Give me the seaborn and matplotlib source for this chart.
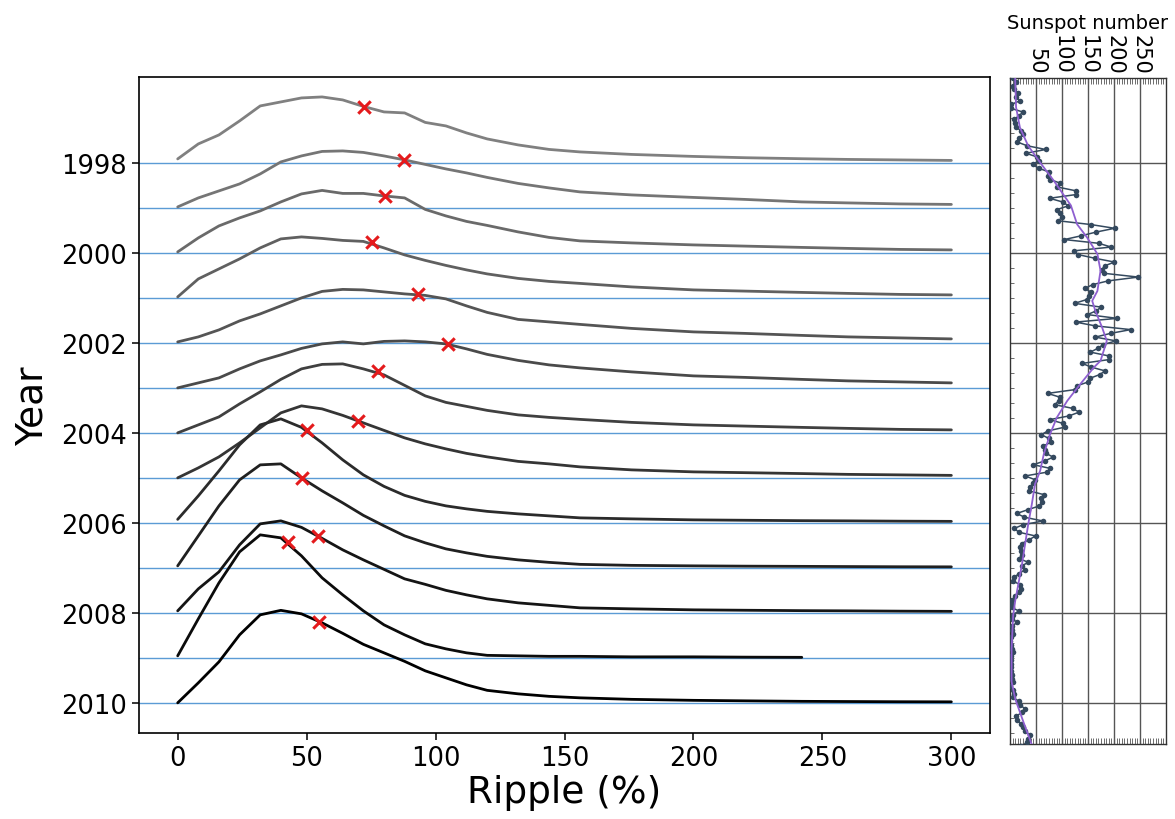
import numpy as np
import pandas as pd
import matplotlib
matplotlib.use("Agg")
import matplotlib.pyplot as plt
import seaborn as sns
from matplotlib.ticker import MultipleLocator, FixedLocator

# ---- ridge curves: ripple distribution per year ----
years = [1998, 1999, 2000, 2001, 2002, 2003, 2004, 2005, 2006, 2007, 2008, 2009, 2010]
ripple = [0, 8, 16, 24, 32, 40, 48, 56, 64, 72, 80, 88, 96, 104, 112, 120,
          132, 144, 156, 176, 200, 220, 242, 260, 280, 300]

r1998 = [4, 19, 28, 42, 57, 61, 65, 66, 63, 56.5, 51, 50, 40.5, 37, 30, 24, 18, 13.5, 11, 8.5, 6.5, 5.2, 4.2, 3.5, 3, 2.5]
r1999 = [1, 10, 17, 24, 34, 46, 52, 56.5, 57, 55.5, 52, 48, 43.5, 39, 35, 30.5, 24.5, 20, 16, 13, 10.5, 8.5, 6, 5, 4, 3.5]
r2000 = [1, 15, 27, 35, 42, 51, 59, 62.5, 59.5, 59.5, 57, 55, 43.5, 37, 31.5, 27.5, 21, 15.5, 12, 10, 8, 6.8, 5.5, 4.5, 3.5, 3]
r2001 = [1, 19, 29, 39, 50, 59, 61, 59.5, 57.5, 56.5, 50, 43, 37.5, 32.5, 28, 24, 19.5, 16.5, 14.5, 11, 8, 6.8, 5.5, 4.5, 3.5, 3]
r2002 = [1, 6, 13, 22, 29, 37, 45, 51.5, 53.5, 53, 51, 49, 47.5, 44, 37, 30.5, 23.5, 21, 18.5, 14.5, 11, 9.5, 7.5, 6, 5, 4]
r2003 = [0, 5, 10, 19, 27, 33, 39.5, 44, 46, 44, 46.5, 47, 46, 44, 39, 33.5, 27.5, 23, 20, 16, 12, 10.5, 8.5, 7, 6, 5]
r2004 = [0, 8, 16, 29, 41, 53.5, 64, 68.5, 69, 64, 58, 47.5, 37, 30.5, 26.5, 22.5, 18, 15.5, 13.5, 10.5, 8, 6.8, 5.5, 4.5, 3.5, 3]
r2005 = [0, 10, 21, 35, 50, 65, 72, 69, 62.5, 55, 47.5, 40, 34, 29, 24.5, 21, 16.5, 14, 11, 8, 6, 5.2, 4.3, 3.5, 3, 2.5]
r2006 = [3.5, 27, 52, 78, 98, 104, 95.5, 80, 63, 48, 36.5, 27.5, 21.5, 17, 14, 11.5, 9, 7, 5, 4, 3, 2.6, 2.2, 2, 1.7, 1.5]
r2007 = [2, 32, 62, 88, 103, 104, 90, 77, 65, 52.5, 42, 32, 25, 19, 15, 11.5, 8, 5.5, 3.5, 2.5, 2, 1.7, 1.5, 1.3, 1.1, 1]
r2008 = [2, 24, 41, 68, 89, 92, 85.5, 74.5, 63, 53, 43.5, 34, 28.5, 22.5, 18, 14, 10, 7.5, 5, 4, 3, 2.6, 2.2, 2, 1.7, 1.5]
r2009 = [2, 39, 75, 106, 123, 120, 102, 80, 63, 47, 33, 23, 14, 9, 5, 2.5, 2, 1.5, 1.5, 1, 1, 0.7, 0.5, np.nan, np.nan, np.nan]
r2010 = [0, 20, 41, 68, 88, 92.5, 89, 80, 69.5, 58.5, 50, 41.5, 32, 25, 18, 12.5, 9, 6.5, 5, 3.5, 2.5, 2, 1.5, 1.3, 1.1, 1]
ridges = [r1998, r1999, r2000, r2001, r2002, r2003, r2004, r2005, r2006, r2007, r2008, r2009, r2010]

# red crosses (median ripple) per year
mark_x = [72.4, 87.7, 80.4, 75.2, 93, 104.7, 77.5, 69.8, 50, 48.2, 54.3, 42.7, 54.9]
mark_h = [56, 48, 57, 56, 48.5, 43.5, 62, 57, 93, 89.5, 77, 116, 81]

ridge_scale = 1 / 45.0   # curve height -> spacing between years

# ---- monthly sunspot number ----
ss_1996 = [15.5, 5.9, 12.4, 6.5, 7.4, 15.9, 11.1, 19.4, 2.2, 1.2, 24.2, 18.0]
ss_1997 = [7.6, 10.2, 11.7, 20.8, 24.8, 17.0, 13.9, 32.7, 68.7, 30.6, 52.3, 55.2]
ss_1998 = [43.7, 55.2, 75.1, 73.2, 77.1, 96.9, 91.2, 126.3, 127.3, 76.0, 101.4, 112.2]
ss_1999 = [90.5, 96.8, 100.4, 93.0, 155.3, 201.0, 165.7, 136.8, 104.4, 170.4, 194.5, 123.5]
ss_2000 = [130.6, 163.7, 200.8, 182.0, 176.3, 181.1, 246.6, 189.2, 159.1, 144.1, 154.9, 151.4]
ss_2001 = [147.2, 124.1, 174.8, 165.9, 148.8, 206.4, 126.0, 163.9, 232.1, 193.3, 164.0, 203.6]
ss_2002 = [179.1, 168.6, 154.5, 189.5, 189.7, 138.6, 156.4, 182.7, 172.1, 153.1, 149.2, 128.1]
ss_2003 = [124.0, 72.1, 95.9, 93.6, 86.1, 120.7, 132.6, 113.4, 76.1, 102.2, 105.0, 72.5]
ss_2004 = [60.3, 74.5, 79.2, 63.7, 67.2, 70.0, 82.8, 66.3, 44.9, 77.8, 70.5, 29.0]
ss_2005 = [48.2, 45.0, 37.7, 37.3, 65.8, 60.5, 61.8, 56.1, 34.0, 13.1, 27.7, 63.4]
ss_2006 = [24.9, 8.0, 17.3, 49.2, 36.3, 22.7, 19.9, 21.0, 23.5, 17.0, 35.0, 22.2]
ss_2007 = [28.2, 18.0, 7.6, 5.7, 19.7, 20.3, 16.3, 10.1, 4.0, 1.5, 2.9, 17.0]
ss_2008 = [4.8, 3.1, 13.6, 4.2, 4.7, 5.0, 1.2, 0.7, 1.6, 4.2, 6.0, 1.2]
ss_2009 = [2.3, 2.2, 1.1, 1.9, 4.5, 4.0, 5.4, 0.0, 6.5, 7.1, 6.5, 16.4]
ss_2010 = [19.8, 28.1, 23.3, 11.9, 13.3, 20.4, 24.3, 29.6, 38.1, 35.5, 32.6, 21.9]
ss_years = list(range(1996, 2011))
ss_monthly = [ss_1996, ss_1997, ss_1998, ss_1999, ss_2000, ss_2001, ss_2002, ss_2003,
              ss_2004, ss_2005, ss_2006, ss_2007, ss_2008, ss_2009, ss_2010]

# smoothed sunspot number
smooth_t = [1996.04, 1996.18, 1996.77, 1997.22, 1997.63, 1998.0, 1998.4, 1998.95, 1999.37,
            1999.66, 2000.03, 2000.4, 2000.85, 2001.07, 2001.29, 2001.66, 2001.96, 2002.4,
            2002.55, 2002.92, 2003.29, 2003.66, 2004.03, 2004.47, 2004.84, 2005.14, 2005.58,
            2006.03, 2006.47, 2006.92, 2007.36, 2007.73, 2008.06, 2008.8, 2009.53, 2009.91,
            2010.43, 2010.96]
smooth_v = [10, 10, 11.6, 19, 35, 58, 84, 117, 129, 148, 168, 174, 168, 158, 164, 177, 186, 174,
            161, 135, 110, 90, 77, 65, 58, 48, 42, 35, 29, 23, 16, 10, 6, 3, 3, 10, 26, 43]

# ---- long-form tables ----
ridge_df = pd.DataFrame([
    {"year": y, "ripple": x, "level": y - h * ridge_scale}
    for y, hs in zip(years, ridges) for x, h in zip(ripple, hs) if not np.isnan(h)
])
mark_df = pd.DataFrame({"year": years, "ripple": mark_x,
                        "level": [y - h * ridge_scale for y, h in zip(years, mark_h)]})
ss_df = pd.DataFrame([
    {"t": y + (m + 0.5) / 12, "ssn": v}
    for y, vals in zip(ss_years, ss_monthly) for m, v in enumerate(vals)
])
smooth_df = pd.DataFrame({"t": smooth_t, "ssn": smooth_v})

sns.set_style("ticks")
plt.rcParams["font.family"] = ["DejaVu Sans"]
plt.rcParams.update({"text.color": "black", "axes.labelcolor": "black",
                     "xtick.color": "black", "ytick.color": "black"})

fig = plt.figure(figsize=(11.75, 8.2), dpi=100)
ax = fig.add_axes([0.1183, 0.1049, 0.7243, 0.80])
ax2 = fig.add_axes([0.8596, 0.0915, 0.1328, 0.8122])

# left: ridgeline
for y in years:
    ax.axhline(y, color="#5b9bd5", lw=1.0, zorder=1)
greys = [str(g) for g in np.linspace(0.5, 0.0, len(years))]
sns.lineplot(data=ridge_df, x="ripple", y="level", hue="year", palette=greys,
             estimator=None, sort=False, legend=False, lw=2.0, ax=ax, zorder=2)
sns.scatterplot(data=mark_df, x="ripple", y="level", marker="x", color="#e41a1c",
                s=80, linewidth=2.2, ax=ax, zorder=3)
ax.set_xlim(-15, 315)
ax.set_ylim(2010.67, 1996.09)
ax.set_xticks([0, 50, 100, 150, 200, 250, 300])
ax.set_yticks([1998, 2000, 2002, 2004, 2006, 2008, 2010])
ax.tick_params(labelsize=18.5, length=5, width=1.1, direction="out",
               color="black", labelcolor="black")
ax.set_xlabel("Ripple (%)", fontsize=27, labelpad=2, color="black")
ax.set_ylabel("Year", fontsize=27, labelpad=8, color="black")
for sp in ax.spines.values():
    sp.set_linewidth(1.2)
    sp.set_color("black")

# right: sunspot number vs time
sns.lineplot(data=ss_df, x="ssn", y="t", sort=False, estimator=None, orient="y",
             color="#34495e", lw=1.1, marker="o", markersize=4,
             markeredgewidth=0, ax=ax2, zorder=3)
sns.lineplot(data=smooth_df, x="ssn", y="t", sort=False, estimator=None, orient="y",
             color="#8e5fd0", lw=1.3, ax=ax2, zorder=4)
ax2.set_xlim(0, 300)
ax2.set_ylim(2010.91, 1996.12)
ax2.xaxis.set_major_locator(FixedLocator([50, 100, 150, 200, 250]))
ax2.xaxis.set_minor_locator(MultipleLocator(5))
ax2.yaxis.set_major_locator(FixedLocator([1998, 2000, 2002, 2004, 2006, 2008, 2010]))
ax2.yaxis.set_minor_locator(MultipleLocator(1 / 3))
ax2.grid(True, which="major", color="#555555", lw=1.0)
ax2.tick_params(axis="x", which="both", direction="in", top=True, bottom=True,
                labeltop=True, labelbottom=False, labelrotation=270, labelsize=15,
                color="#555555", labelcolor="black", pad=3)
ax2.tick_params(axis="x", which="minor", length=4, width=0.6)
ax2.tick_params(axis="y", which="both", direction="in", left=True, right=False,
                labelleft=False, length=3, width=0.6, color="#555555")
ax2.xaxis.set_label_position("top")
ax2.set_xlabel("Sunspot number", fontsize=14, labelpad=4, color="black")
ax2.set_ylabel("")
for sp in ax2.spines.values():
    sp.set_linewidth(1.0)
    sp.set_color("#333333")

fig.savefig("out.png", dpi=100)
